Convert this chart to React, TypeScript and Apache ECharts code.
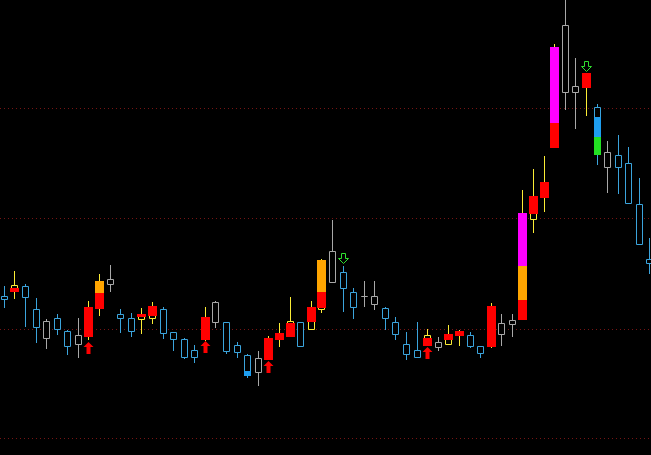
import React, { useEffect, useRef } from "react";
import * as echarts from "echarts";

// Candle data (price units), one entry per bar, left to right
const opens = [
  14.1, 14.6, 15.1, 12.8, 9.9, 11.9, 10.6, 9.3, 10.1, 12.9,
  15.3, 12.3, 11.9, 11.8, 11.9, 12.8, 10.5, 9.8, 8.7, 9.8,
  11.5, 11.5, 9.2, 8.2, 6.5, 7.8, 9.8, 10.15, 11.5, 10.8,
  12.8, 15.5, 16.5, 14.5, 14.1, 13.3, 12.9, 11.5, 9.3, 8.7,
  9.2, 9.0, 9.3, 10.2, 10.2, 9.1, 9.1, 10.3, 11.3, 11.8,
  21.8, 24.0, 29.0, 34.5, 34.5, 35.0, 33.0, 27.0, 28.2, 27.4,
  23.3, 17.8,
];
const closes = [
  13.8, 15.2, 14.0, 11.0, 11.6, 10.8, 9.1, 10.2, 13.0, 15.6,
  15.8, 11.9, 10.6, 12.3, 13.1, 10.4, 9.8, 8.0, 8.0, 12.0,
  13.5, 8.6, 8.5, 6.2, 7.9, 9.9, 10.4, 11.65, 9.1, 13.0,
  17.7, 18.6, 14.9, 13.0, 14.1, 14.1, 11.9, 10.3, 8.3, 8.0,
  10.2, 9.5, 10.3, 10.6, 9.1, 8.4, 13.1, 11.4, 11.7, 22.4,
  24.1, 25.5, 39.0, 41.2, 35.1, 36.4, 28.3, 28.5, 27.0, 23.4,
  19.3, 17.4,
];
const highs = [
  15.1, 16.6, 15.3, 13.9, 11.8, 12.3, 10.7, 11.9, 13.6, 16.3,
  17.2, 12.8, 12.4, 12.9, 13.5, 13.0, 10.5, 9.9, 9.2, 13.0,
  13.6, 11.5, 9.5, 8.3, 8.6, 10.1, 11.4, 14.0, 11.5, 13.6,
  17.8, 21.7, 17.1, 14.9, 15.6, 15.6, 13.0, 12.0, 10.5, 11.5,
  10.8, 10.0, 11.2, 10.7, 10.5, 9.1, 13.4, 12.3, 12.3, 24.7,
  26.8, 28.1, 39.3, 44.2, 37.9, 36.4, 33.3, 29.6, 30.2, 29.0,
  25.9, 19.9,
];
const lows = [
  13.0, 13.9, 11.1, 9.5, 8.9, 10.3, 8.3, 8.0, 9.8, 12.2,
  14.6, 10.5, 10.1, 10.4, 11.4, 9.9, 8.7, 7.9, 7.5, 9.7,
  11.0, 8.4, 8.0, 6.0, 5.2, 7.8, 9.1, 10.1, 9.1, 10.8,
  12.5, 15.5, 12.6, 11.9, 13.1, 12.8, 10.8, 9.8, 7.8, 8.0,
  9.2, 8.7, 9.3, 9.2, 9.0, 8.0, 9.0, 9.2, 10.1, 11.8,
  20.5, 22.6, 29.0, 32.8, 30.9, 32.2, 27.3, 24.5, 24.4, 23.4,
  19.3, 16.4,
];
// Outline / wick colour kind per bar: B = blue, G = gray, Y = yellow
const kinds = [
  "B", "Y", "B", "B", "G", "B", "B", "G", "Y", "Y",
  "G", "B", "B", "Y", "Y", "B", "B", "B", "B", "Y",
  "G", "B", "B", "B", "G", "Y", "Y", "Y", "B", "Y",
  "Y", "G", "B", "B", "G", "G", "B", "B", "B", "B",
  "Y", "G", "Y", "Y", "B", "B", "Y", "G", "G", "Y",
  "Y", "Y", "Y", "G", "G", "Y", "B", "G", "B", "B",
  "B", "B",
];
// Coloured body segments: [bar index, from price, to price, colour]
const fills: [number, number, number, string][] = [
  [1, 14.6, 14.95, "red"],
  [8, 10.1, 13.0, "red"],
  [9, 14.4, 15.6, "orange"],
  [9, 12.9, 14.4, "red"],
  [13, 12.15, 12.3, "red"],
  [14, 12.2, 13.1, "red"],
  [19, 9.8, 12.0, "red"],
  [23, 6.2, 6.6, "blue"],
  [25, 7.8, 9.9, "red"],
  [26, 9.8, 10.4, "red"],
  [27, 10.15, 11.45, "red"],
  [29, 11.6, 13.0, "red"],
  [30, 14.55, 17.7, "orange"],
  [30, 13.0, 14.55, "red"],
  [40, 9.2, 9.9, "red"],
  [42, 9.8, 10.3, "red"],
  [43, 10.2, 10.6, "red"],
  [46, 9.1, 13.1, "red"],
  [49, 17.1, 22.4, "magenta"],
  [49, 13.7, 17.1, "orange"],
  [49, 11.8, 13.7, "red"],
  [50, 22.37, 24.1, "red"],
  [51, 24.0, 25.5, "red"],
  [52, 31.4, 39.0, "magenta"],
  [52, 29.0, 31.4, "red"],
  [55, 35.0, 36.4, "red"],
  [56, 30.0, 32.0, "blue"],
  [56, 28.3, 30.0, "green"],
];
// Signal arrows: [bar index, price at arrow tip]
const upArrows: [number, number][] = [
  [8, 9.5],
  [19, 9.6],
  [25, 7.6],
  [40, 9.0],
];
const downArrows: [number, number][] = [
  [32, 17.4],
  [55, 36.6],
];
// Horizontal price grid levels
const gridLevels = [32.95, 21.9, 10.85, -0.1];

const KIND_COLORS: Record<string, string> = {
  B: "#3ba4dc",
  G: "#a8a8a8",
  Y: "#fbec35",
};
const FILL_COLORS: Record<string, string> = {
  red: "#ff0000",
  orange: "#ffa500",
  magenta: "#ff00ff",
  blue: "#1e9ef0",
  green: "#22e022",
};
const FILL_WIDTHS: Record<string, number> = {
  red: 9,
  orange: 9,
  magenta: 9,
  blue: 7,
  green: 7,
};

export default function App() {
  const ref = useRef<HTMLDivElement>(null);

  useEffect(() => {
    document.body.style.margin = "0";
    document.body.style.background = "#000";
    const chart = echarts.init(ref.current as HTMLDivElement, null, {
      renderer: "svg",
    });

    const candleData = opens.map((o, i) => [i, o, closes[i], lows[i], highs[i]]);
    const fillData = fills.map((f) => [f[0], f[1], f[2]]);
    const arrowData = [
      ...upArrows.map((a) => [a[0], a[1], 1]),
      ...downArrows.map((a) => [a[0], a[1], -1]),
    ];
    const gridData = gridLevels.map((v) => [0, v]);

    const option: any = {
      animation: false,
      backgroundColor: "#000000",
      grid: { left: 0, right: 0, top: 0, bottom: 0 },
      xAxis: {
        type: "value",
        min: -0.4062,
        max: 61.096,
        show: false,
        splitLine: { show: false },
      },
      yAxis: {
        type: "value",
        min: -1.8,
        max: 43.7,
        show: false,
        splitLine: { show: false },
      },
      series: [
        {
          type: "custom",
          z: 1,
          silent: true,
          encode: { x: 0, y: 1 },
          data: gridData,
          renderItem: (params: any, api: any) => {
            const p = api.coord([0, api.value(1)]);
            const y = Math.round(p[1]) + 0.5;
            const cs = params.coordSys;
            return {
              type: "line",
              shape: { x1: cs.x, y1: y, x2: cs.x + cs.width, y2: y },
              style: { stroke: "#761414", lineWidth: 1, lineDash: [1, 3] },
            };
          },
        },
        {
          type: "custom",
          z: 3,
          silent: true,
          encode: { x: 0, y: [1, 2, 3, 4] },
          data: candleData,
          renderItem: (params: any, api: any) => {
            const i = api.value(0);
            const o = api.value(1);
            const c = api.value(2);
            const l = api.value(3);
            const h = api.value(4);
            const color = KIND_COLORS[kinds[params.dataIndex]];
            const pTop = api.coord([i, Math.max(o, c)]);
            const pBot = api.coord([i, Math.min(o, c)]);
            const pHi = api.coord([i, h]);
            const pLo = api.coord([i, l]);
            const cx = Math.floor(pTop[0]) + 0.5;
            const yT = Math.round(pTop[1]) + 0.5;
            const yB = Math.round(pBot[1]) + 0.5;
            return {
              type: "group",
              children: [
                {
                  type: "line",
                  shape: {
                    x1: cx,
                    y1: Math.round(pHi[1]),
                    x2: cx,
                    y2: Math.round(pLo[1]) + 1,
                  },
                  style: { stroke: color, lineWidth: 1 },
                },
                {
                  type: "rect",
                  shape: {
                    x: cx - 3,
                    y: yT,
                    width: 6,
                    height: Math.max(yB - yT, 0),
                  },
                  style: { fill: "#000000", stroke: color, lineWidth: 1 },
                },
              ],
            };
          },
        },
        {
          type: "custom",
          z: 4,
          silent: true,
          encode: { x: 0, y: [1, 2] },
          data: fillData,
          renderItem: (params: any, api: any) => {
            const key = fills[params.dataIndex][3];
            const w = FILL_WIDTHS[key];
            const a = api.coord([api.value(0), api.value(2)]);
            const b = api.coord([api.value(0), api.value(1)]);
            const cx = Math.floor(a[0]) + 0.5;
            const y1 = Math.round(a[1]);
            const y2 = Math.round(b[1]) + 1;
            return {
              type: "rect",
              shape: { x: cx - w / 2, y: y1, width: w, height: Math.max(y2 - y1, 1) },
              style: { fill: FILL_COLORS[key] },
            };
          },
        },
        {
          type: "custom",
          z: 5,
          silent: true,
          encode: { x: 0, y: 1 },
          data: arrowData,
          renderItem: (params: any, api: any) => {
            const p = api.coord([api.value(0), api.value(1)]);
            const dir = api.value(2);
            if (dir > 0) {
              const x = Math.floor(p[0]) + 0.5;
              const y = Math.round(p[1]);
              const pts = [
                [0, 0], [5, 5], [2, 5], [2, 12], [-2, 12], [-2, 5], [-5, 5],
              ].map((q) => [x + q[0], y + q[1]]);
              return {
                type: "polygon",
                shape: { points: pts },
                style: { fill: "#ff0000" },
              };
            }
            const x = Math.floor(p[0]) + 0.5;
            const y = Math.round(p[1]) + 0.5;
            const pts = [
              [0, 0], [-5, -5], [-2, -5], [-2, -10], [2, -10], [2, -5], [5, -5],
            ].map((q) => [x + q[0], y + q[1]]);
            return {
              type: "polygon",
              shape: { points: pts },
              style: { fill: "none", stroke: "#2fe02f", lineWidth: 1 },
            };
          },
        },
      ],
    };

    chart.setOption(option);
    return () => {
      chart.dispose();
    };
  }, []);

  return (
    <div
      ref={ref}
      style={{ width: 651, height: 455, background: "#000000" }}
    />
  );
}
